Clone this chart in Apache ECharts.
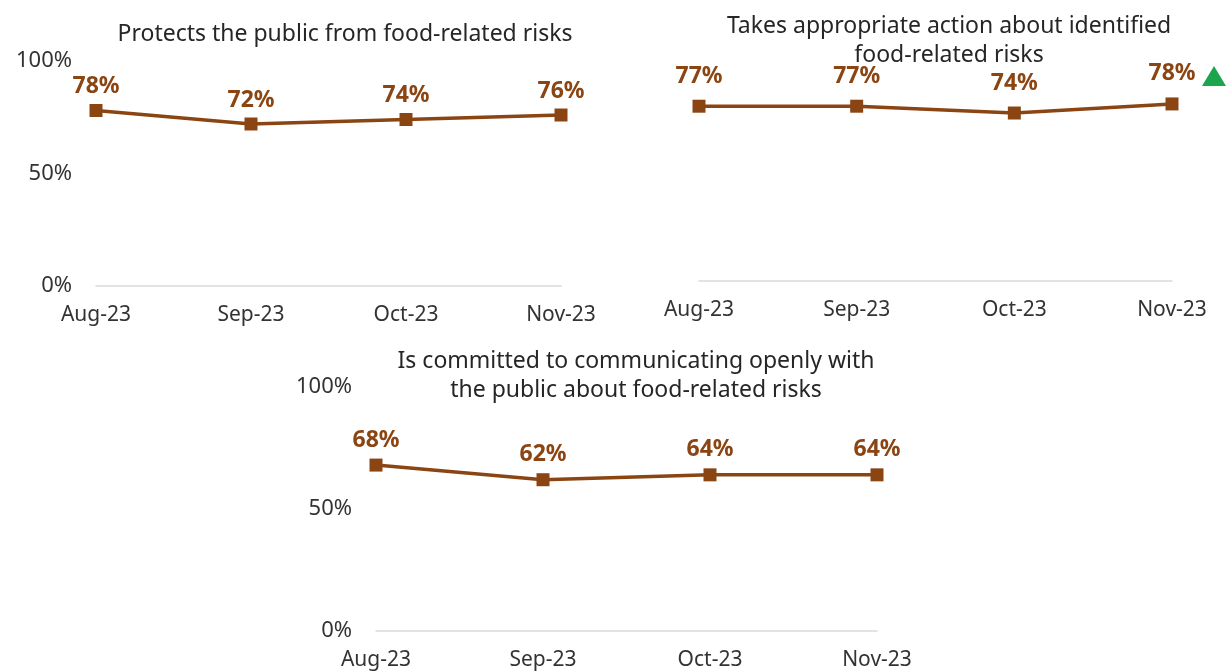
<!DOCTYPE html>
<html>
<head>
<meta charset="utf-8">
<script src="https://cdn.jsdelivr.net/npm/echarts@6/dist/echarts.min.js"></script>
<style>
html,body{margin:0;padding:0;background:#fff;}
#c{width:1231px;height:672px;}
</style>
</head>
<body>
<div id="c"></div>
<script>
const months = ['Aug-23', 'Sep-23', 'Oct-23', 'Nov-23'];
const titles = [
  'Protects the public from food-related risks',
  'Takes appropriate action about identified\nfood-related risks',
  'Is committed to communicating openly with\nthe public about food-related risks'
];
const protectsPublic = [78, 72, 74, 76];
const takesAction = [77, 77, 74, 78];
const communicatesOpenly = [68, 62, 64, 64];
const yTicks = [0, 50, 100];

const FONT = 'Noto Sans';
const BROWN = '#8B4513';
const AXIS_TXT = '#333333';

const chart = echarts.init(document.getElementById('c'), null, {renderer: 'canvas'});

const grids = [
  {left: 96, top: 61, width: 465, height: 225},
  {left: 699, top: 54, width: 473, height: 227},
  {left: 376, top: 387, width: 501, height: 244}
];
const showY = [true, false, true];
const labelDist = [6, 12, 7];
const seriesData = [protectsPublic, takesAction, communicatesOpenly];

function xAxis(i) {
  return {
    type: 'category', gridIndex: i, data: months, boundaryGap: false,
    axisLine: {show: true, lineStyle: {color: '#d9d9d9', width: 1.5}},
    axisTick: {show: false},
    axisLabel: {color: AXIS_TXT, fontFamily: FONT, fontSize: 21, margin: 19}
  };
}
function yAxis(i) {
  return {
    type: 'value', gridIndex: i, min: yTicks[0], max: yTicks[yTicks.length - 1], interval: 50,
    show: showY[i],
    splitLine: {show: false}, axisLine: {show: false}, axisTick: {show: false},
    axisLabel: {color: AXIS_TXT, fontFamily: FONT, fontSize: 22, margin: 24, formatter: '{value}%'}
  };
}
function series(i) {
  const s = {
    type: 'line', xAxisIndex: i, yAxisIndex: i, data: seriesData[i],
    symbol: 'rect', symbolSize: 13,
    lineStyle: {color: BROWN, width: 3.5},
    itemStyle: {color: BROWN},
    label: {show: true, position: 'top', distance: labelDist[i], formatter: '{c}%',
      color: BROWN, fontFamily: FONT, fontWeight: 'bold', fontSize: 23},
    animation: false
  };
  if (i === 1) {
    s.markPoint = {
      data: [{coord: ['Nov-23', takesAction[3]]}],
      symbol: 'triangle', symbolSize: [24, 20], symbolOffset: [42, -28],
      itemStyle: {color: '#1BA64E'}, label: {show: false}
    };
  }
  return s;
}

const titleStyle = {fontFamily: FONT, fontSize: 23, fontWeight: 'normal', color: '#262626', lineHeight: 29};
chart.setOption({
  animation: false,
  title: [
    {text: titles[0], left: 340, top: 15, textAlign: 'center', textStyle: titleStyle},
    {text: titles[1], left: 944, top: 7, textAlign: 'center', textStyle: titleStyle},
    {text: titles[2], left: 631, top: 342, textAlign: 'center', textStyle: titleStyle}
  ],
  grid: grids,
  xAxis: [0, 1, 2].map(xAxis),
  yAxis: [0, 1, 2].map(yAxis),
  series: [0, 1, 2].map(series)
});
</script>
</body>
</html>
